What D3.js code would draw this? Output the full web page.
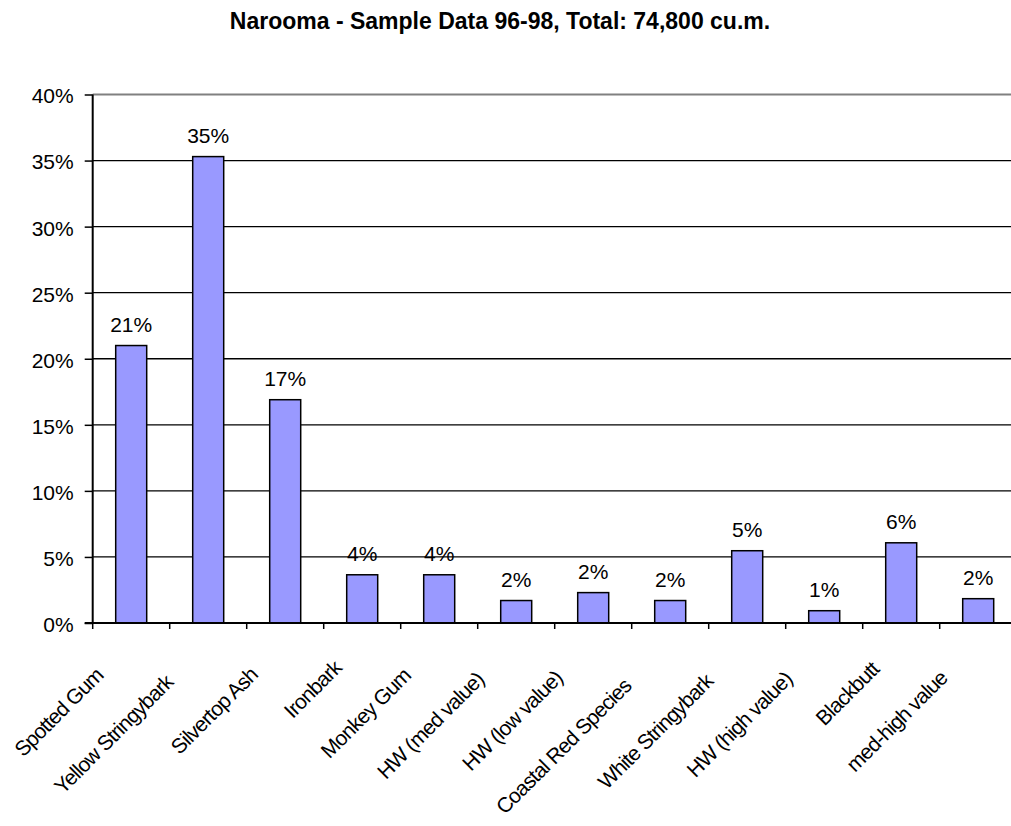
<!DOCTYPE html>
<html>
<head>
<meta charset="utf-8">
<script src="https://cdn.jsdelivr.net/npm/d3@7"></script>
<style>
  html, body { margin: 0; padding: 0; background: #fff; }
  svg { display: block; font-family: Arial, "Liberation Sans", sans-serif; }
</style>
</head>
<body>
<script>
// Species share of harvested volume
const categories = [
  "Spotted Gum", "Yellow Stringybark", "Silvertop Ash", "Ironbark",
  "Monkey Gum", "HW (med value)", "HW (low value)", "Coastal Red Species",
  "White Stringybark", "HW (high value)", "Blackbutt", "med-high value"
];
const shares = [21.0, 35.3, 16.9, 3.65, 3.65, 1.7, 2.3, 1.7, 5.47, 0.93, 6.07, 1.84];
const yTicks = [0, 5, 10, 15, 20, 25, 30, 35, 40];
const titleText = "Narooma - Sample Data 96-98, Total: 74,800 cu.m.";

const W = 1011, H = 826;
const plotLeft = 92.7, plotTop = 94.5, plotBottom = 623;
const bandW = 77;
const plotRight = plotLeft + bandW * categories.length;

const svg = d3.select("body").append("svg").attr("width", W).attr("height", H);

const x = d3.scaleBand().domain(categories).range([plotLeft, plotRight]).paddingInner(0).paddingOuter(0);
const y = d3.scaleLinear().domain([0, 40]).range([plotBottom, plotTop]);

// title
svg.append("text")
  .attr("x", 500).attr("y", 29)
  .attr("text-anchor", "middle")
  .attr("font-size", 23).attr("font-weight", "bold")
  .text(titleText);

// horizontal gridlines
svg.append("g").selectAll("line")
  .data(yTicks.filter(d => d > 0))
  .join("line")
  .attr("x1", plotLeft).attr("x2", plotRight)
  .attr("y1", d => y(d)).attr("y2", d => y(d))
  .attr("stroke", d => d === 40 ? "#808080" : "#000")
  .attr("stroke-width", d => d === 40 ? 2 : 1.3);

// bars
svg.append("g").selectAll("rect")
  .data(shares)
  .join("rect")
  .attr("x", (d, i) => x(categories[i]) + x.bandwidth() / 2 - 15.5)
  .attr("width", 31)
  .attr("y", d => y(d))
  .attr("height", d => y(0) - y(d))
  .attr("fill", "#9999FF")
  .attr("stroke", "#000")
  .attr("stroke-width", 1.5);

// value labels
svg.append("g").selectAll("text")
  .data(shares)
  .join("text")
  .attr("x", (d, i) => x(categories[i]) + x.bandwidth() / 2)
  .attr("y", d => y(d) - 14)
  .attr("text-anchor", "middle")
  .attr("font-size", 21)
  .text(d => Math.round(d) + "%");

// y axis
const yAxis = d3.axisLeft(y).tickValues(yTicks).tickFormat(d => d + "%").tickSize(8).tickPadding(11);
const gy = svg.append("g").attr("transform", `translate(${plotLeft},0)`).call(yAxis);
gy.select(".domain").attr("stroke", "#000").attr("stroke-width", 2).attr("d", `M0,${plotTop}V${plotBottom}`);
gy.selectAll(".tick line").attr("stroke", "#000").attr("stroke-width", 1.5);
gy.selectAll(".tick text").attr("font-size", 21).attr("fill", "#000").attr("dy", "0.4em")
  .attr("font-family", "Arial, 'Liberation Sans', sans-serif");

// x axis with ticks at category boundaries
svg.append("line")
  .attr("x1", plotLeft - 8).attr("x2", plotRight)
  .attr("y1", plotBottom).attr("y2", plotBottom)
  .attr("stroke", "#000").attr("stroke-width", 2);
const boundaries = categories.map(c => x(c));
svg.append("g").selectAll("line")
  .data(boundaries)
  .join("line")
  .attr("x1", d => d).attr("x2", d => d)
  .attr("y1", plotBottom).attr("y2", plotBottom + 6)
  .attr("stroke", "#000").attr("stroke-width", 1.5);

// rotated category labels: longer labels slide further down-left along their baseline
const S = Math.SQRT2;
const labels = svg.append("g").selectAll("text")
  .data(categories)
  .join("text")
  .attr("text-anchor", "end")
  .attr("font-size", 21)
  .attr("letter-spacing", -0.8)
  .text(d => d);
labels.each(function (d) {
  const len = this.getComputedTextLength();
  const perp = 19;
  const along = -30 - 0.233 * len;
  const cx = x(d) + x.bandwidth() / 2;
  const ex = cx + (perp + along) / S;
  const ey = plotBottom + (perp - along) / S;
  d3.select(this).attr("transform", `translate(${ex},${ey}) rotate(-45)`);
});
</script>
</body>
</html>
